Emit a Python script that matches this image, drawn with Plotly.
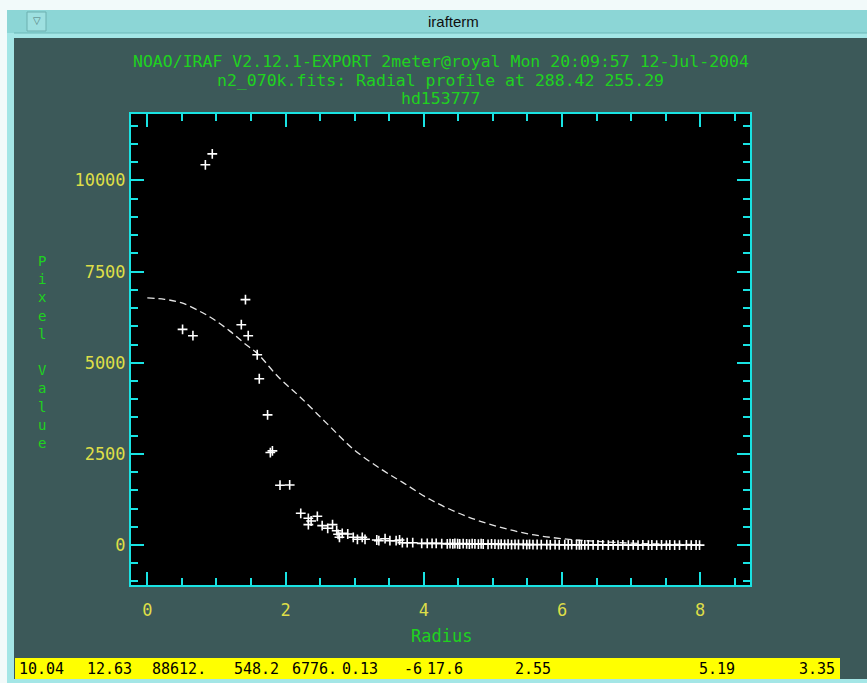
import plotly.graph_objects as go

# ---------------- data ----------------
scatter_r = [0.84, 0.94, 0.51, 0.66, 1.42, 1.36, 1.46, 1.59, 1.62, 1.74, 1.78, 1.81,
             1.92, 2.06, 2.22, 2.33, 2.37, 2.33, 2.46, 2.53, 2.61, 2.68, 2.74, 2.76,
             2.78, 2.82, 2.90, 2.98, 3.04, 3.11, 3.15, 3.32, 3.35, 3.44, 3.51, 3.60,
             3.65, 3.69, 3.76, 3.84, 3.97, 4.05, 4.12, 4.18, 4.26, 4.34,
             4.38, 4.42, 4.45, 4.49, 4.52, 4.57, 4.62, 4.66, 4.70, 4.74, 4.79, 4.83,
             4.86, 4.93, 4.98, 5.03, 5.08, 5.12, 5.17, 5.22, 5.27, 5.32, 5.37, 5.44,
             5.49, 5.53, 5.58, 5.64, 5.70, 5.78, 5.83, 5.90, 5.96, 6.04, 6.09, 6.14,
             6.21, 6.25, 6.28, 6.33, 6.38, 6.45, 6.52, 6.59, 6.67, 6.74, 6.81, 6.88,
             6.96, 7.03, 7.10, 7.17, 7.25, 7.30, 7.37, 7.44, 7.51, 7.56, 7.63, 7.70,
             7.80, 7.87, 7.94, 7.99]
scatter_v = [10430, 10730, 5914, 5741, 6730, 6043, 5741, 5219, 4560, 3571, 2536, 2582,
             1640, 1648, 870, 733, 659, 558, 788, 531, 458, 558, 393, 294,
             211, 320, 302, 211, 156, 211, 156, 137, 118, 173, 118, 118,
             137, 64, 64, 64, 46, 46, 46, 46, 40, 30,
             38, 30, 42, 35, 28, 40, 33, 25, 36, 30, 22, 34,
             27, 20, 31, 24, 18, 26, 15, 22, 12, 20, 14, 18,
             10, 16, 9, 14, 8, 12, 6, 10, 4, 8, 5, 9,
             3, 7, 2, 6, 1, 5, 0, 4, -2, 3, -1, 2,
             -3, 1, -2, 2, -4, 0, -2, 1, -3, 0, -1, -4,
             1, -2, 0, -3]

fit_r = [0.0, 0.25, 0.5, 0.8, 1.0, 1.2, 1.4, 1.6, 1.9, 2.2, 2.6, 3.0, 3.4, 3.7,
         4.1, 4.6, 5.1, 5.6, 6.1, 6.5, 7.0, 7.5, 8.0]
fit_v = [6777, 6740, 6640, 6370, 6140, 5860, 5540, 5240, 4600, 4080, 3330, 2600,
         2060, 1710, 1240, 800, 490, 275, 155, 100, 50, 25, 12]

x_ticks = [0, 2, 4, 6, 8]
x_tick_labels = ["0", "2", "4", "6", "8"]
y_ticks = [0, 2500, 5000, 7500, 10000]
y_tick_labels = ["0", "2500", "5000", "7500", "10000"]

title_lines = ["NOAO/IRAF V2.12.1-EXPORT 2meter@royal Mon 20:09:57 12-Jul-2004",
               "n2_070k.fits: Radial profile at 288.42 255.29",
               "hd153777"]
status_fields = ["10.04", "12.63", "88612.", "548.2", "6776.", "0.13", "-6",
                 "17.6", "2.55", "5.19", "3.35"]
status_x = [17, 85, 150, 232, 290, 340, 402, 425, 513, 697, 797]

# ---------------- layout helpers ----------------
W, H = 867, 683
L, R, T, B = 131, 750, 114, 585


def px(x):
    return (x - L) / (R - L)


def py(y):
    return (B - y) / (B - T)


SLATE = "#3c5959"
CYAN = "#19e3e3"
YEL = "#dede48"
GREEN = "#1fd21f"
MONO = "DejaVu Sans Mono"

fig = go.Figure()
fig.add_trace(go.Scatter(x=fit_r, y=fit_v, mode="lines", line_shape="spline",
                         line=dict(color="#e6e6e6", width=1.3, dash="7px,4px"),
                         hoverinfo="skip", showlegend=False))
fig.add_trace(go.Scatter(x=scatter_r, y=scatter_v, mode="markers",
                         marker=dict(symbol="cross-thin", size=7,
                                     line=dict(color="white", width=1.6)),
                         showlegend=False))

axis_common = dict(showline=True, linecolor=CYAN, linewidth=2, mirror="allticks",
                   ticks="inside", ticklen=13, tickwidth=2, tickcolor=CYAN,
                   showgrid=False, zeroline=False,
                   tickfont=dict(family=MONO, size=17, color=YEL))

fig.update_xaxes(range=[-0.236, 8.72], tickvals=x_ticks, ticktext=x_tick_labels,
                 minor=dict(dtick=0.5, tick0=0, ticks="inside", ticklen=7,
                            tickwidth=2, tickcolor=CYAN, showgrid=False),
                 ticklabelstandoff=9, **axis_common)
fig.update_yaxes(range=[-1097, 11823], tickvals=y_ticks, ticktext=y_tick_labels,
                 minor=dict(dtick=500, tick0=0, ticks="inside", ticklen=7,
                            tickwidth=2, tickcolor=CYAN, showgrid=False),
                 ticklabelstandoff=0, **axis_common)

shapes = []


def rect(x0, y0, x1, y1, color, line=None):
    d = dict(type="rect", xref="paper", yref="paper",
             x0=px(x0), x1=px(x1), y0=py(y1), y1=py(y0),
             fillcolor=color, line=dict(width=0), layer="below")
    if line:
        d["line"] = line
    shapes.append(d)


# window frame decorations
rect(0, 0, W, 10, "#f2fafa")
rect(0, 0, 7, H, "#f2fafa")
rect(7, 10, 14, H, "#a4e6e6")
rect(7, 10, W, 33, "#8cd6d6")
rect(7, 33, W, 38, "#a4e6e6")
rect(7, 679, W, H, "#a4e6e6")
shapes.append(dict(type="line", xref="paper", yref="paper",
                   x0=px(14), x1=px(W), y0=py(33), y1=py(33),
                   line=dict(color="#6cb8b8", width=1)))
rect(27, 12, 46, 31, "#9ee0e0", line=dict(color="#6cb0b0", width=1))
rect(15, 658, 840, 679, "#ffff00")

fig.update_layout(shapes=shapes)

ann = []
ann.append(dict(x=px(453), y=py(21), xref="paper", yref="paper", text="irafterm",
                showarrow=False, font=dict(family="Liberation Sans", size=15, color="#101010"),
                xanchor="center", yanchor="middle"))
ann.append(dict(x=px(36.5), y=py(20), xref="paper", yref="paper", text="▽",
                showarrow=False, font=dict(family="DejaVu Sans", size=10, color="#507878"),
                xanchor="center", yanchor="middle"))
for i, line in enumerate(title_lines):
    ann.append(dict(x=px(440.5), y=py(61.5 + 18.7 * i), xref="paper", yref="paper",
                    text=line, showarrow=False,
                    font=dict(family=MONO, size=16.5, color=GREEN),
                    xanchor="center", yanchor="middle"))
ann.append(dict(x=px(441), y=py(636), xref="paper", yref="paper", text="Radius",
                showarrow=False, font=dict(family=MONO, size=17, color=GREEN),
                xanchor="center", yanchor="middle"))
ann.append(dict(x=px(42), y=py(351.5), xref="paper", yref="paper",
                text="<br>".join(list("Pixel") + ["\u00a0"] + list("Value")),
                showarrow=False, font=dict(family=MONO, size=14, color=GREEN),
                xanchor="center", yanchor="middle", align="center"))
for txt, xx in zip(status_fields, status_x):
    ann.append(dict(x=px(xx), y=py(668.5), xref="paper", yref="paper", text=txt,
                    showarrow=False, font=dict(family=MONO, size=15, color="#000000"),
                    xanchor="left", yanchor="middle"))

fig.update_layout(annotations=ann, width=W, height=H, autosize=False,
                  margin=dict(l=L, r=W - R, t=T, b=H - B, pad=0),
                  paper_bgcolor=SLATE, plot_bgcolor="black")

fig.write_html("out.html", config={"displayModeBar": False},
               post_script="document.body.style.margin='0';")
